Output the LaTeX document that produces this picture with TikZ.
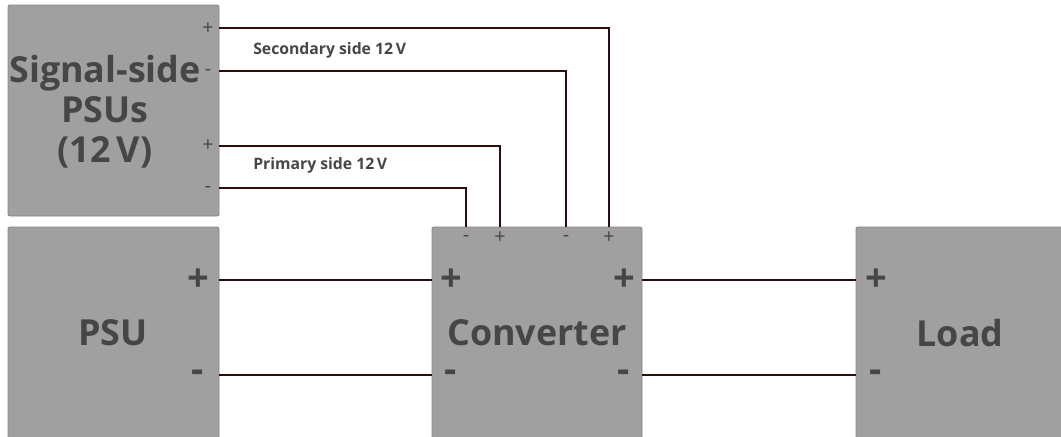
\documentclass[tikz,border=0pt]{standalone}
\usepackage{fontspec}
\setmainfont{Open Sans}
\usetikzlibrary{positioning}
\definecolor{boxfill}{HTML}{A0A0A0}
\definecolor{boxedge}{HTML}{8E8282}
\definecolor{labeltxt}{HTML}{464646}
\definecolor{wire}{HTML}{2A0E0E}
\tikzset{
  unit/.style    ={draw=boxedge, fill=boxfill, rounded corners=1.5pt, inner sep=0pt,
                   line width=0.6pt},
  unitname/.style={text=labeltxt, font=\fontsize{25.5}{28.5}\selectfont\bfseries,
                   align=center, inner sep=0pt},
  bigpol/.style  ={text=labeltxt, font=\fontsize{27}{27}\selectfont\bfseries, inner sep=0pt},
  smallpol/.style={text=labeltxt, font=\fontsize{14}{14}\selectfont, inner sep=0pt},
  rail/.style    ={text=labeltxt, font=\fontsize{11.2}{13}\selectfont\bfseries, anchor=west,
                   inner sep=0pt},
  cable/.style   ={draw=wire, line width=1.3pt},
}

\begin{document}
\begin{tikzpicture}[x=0.025cm, y=-0.025cm]
  \useasboundingbox (0,0) rectangle (1061,436);

  % the four units
  \node[unit, minimum width=211*0.025cm, minimum height=211*0.025cm] (sig) at (113.5,110.5) {};
  \node[unit, minimum width=211*0.025cm, minimum height=214*0.025cm] (psu) at (113.5,334) {};
  \node[unit, minimum width=210*0.025cm, minimum height=214*0.025cm] (conv) at (537,334) {};
  \node[unit, minimum width=212*0.025cm, minimum height=214*0.025cm] (load) at (962,334) {};

  \node[unitname] (signame) at (105,112) {Signal-side\\PSUs\\(12\,V)};
  \node[unitname] (psuname) at (113,333) {PSU};
  \node[unitname] (convname) at (537,333) {Converter};
  \node[unitname] (loadname) at (960,333) {Load};

  % signal-side terminals
  \node[smallpol] (sigap) at (208,29) {+};
  \node[smallpol] (sigam) at (208,72) {-};
  \node[smallpol] (sigbp) at (208,146) {+};
  \node[smallpol] (sigbm) at (208,189) {-};
  \coordinate (sa+) at (219,28);
  \coordinate (sa-) at (219,71);
  \coordinate (sb+) at (219,146);
  \coordinate (sb-) at (219,188);

  % converter control terminals
  \node[smallpol] (cbm) at (466,238) {-};
  \node[smallpol] (cbp) at (500,238) {+};
  \node[smallpol] (cam) at (566,238) {-};
  \node[smallpol] (cap) at (609,238) {+};
  \coordinate (cb-) at (466,227);
  \coordinate (cb+) at (500,227);
  \coordinate (ca-) at (566,227);
  \coordinate (ca+) at (609,227);

  \node[rail] (secname) at (253,50) {Secondary side 12\,V};
  \node[rail] (priname) at (253,165) {Primary side 12\,V};

  % power terminals
  \node[bigpol] (psup) at (198,280) {+};
  \node[bigpol] (psum) at (198,376) {-};
  \node[bigpol] (cinp) at (451,280) {+};
  \node[bigpol] (cinm) at (451,376) {-};
  \node[bigpol] (coutp) at (624,280) {+};
  \node[bigpol] (coutm) at (624,376) {-};
  \node[bigpol] (loadp) at (876,280) {+};
  \node[bigpol] (loadm) at (876,376) {-};

  \draw[cable] (sa+) -| (ca+);
  \draw[cable] (sa-) -| (ca-);
  \draw[cable] (sb+) -| (cb+);
  \draw[cable] (sb-) -| (cb-);

  \draw[cable] (psu.east |- 0,280) -- (conv.west |- 0,280);
  \draw[cable] (psu.east |- 0,375) -- (conv.west |- 0,375);
  \draw[cable] (conv.east |- 0,280) -- (load.west |- 0,280);
  \draw[cable] (conv.east |- 0,375) -- (load.west |- 0,375);

\end{tikzpicture}
\end{document}
